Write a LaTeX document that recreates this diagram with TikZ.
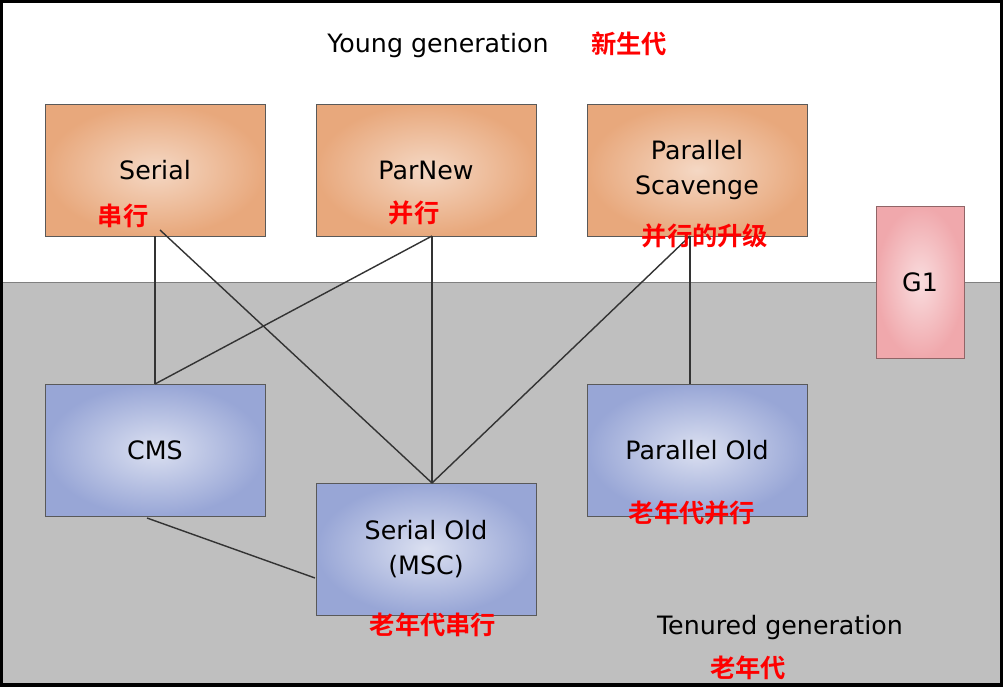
\documentclass[tikz,border=0pt]{standalone}
\usepackage{fontspec}
\setmainfont{DejaVu Sans}
\newfontfamily\cjk{Noto Sans CJK SC}[BoldFont={* Bold}]
\definecolor{young}{HTML}{E8A87C}
\definecolor{tenured}{HTML}{98A6D6}
\definecolor{gone}{HTML}{F0A8AC}
\tikzset{
  gcbox/.style={draw=gray!70!black, minimum width=4.4cm, minimum height=2.64cm, align=center, font=\Large},
  ybox/.style={gcbox, inner color=young!45, outer color=young},
  tbox/.style={gcbox, inner color=tenured!35, outer color=tenured},
  note/.style={font=\cjk\bfseries\Large, text=red},
  link/.style={draw=gray!40!black, thick}
}
\begin{document}
\begin{tikzpicture}[x=0.02cm,y=-0.02cm]
\useasboundingbox (0,0) rectangle (1003,686);
% the two generations
\fill [white] (0,0) rectangle (1003,282);
\fill [gray!50] (0,282) rectangle (1003,686);
\draw [gray] (0,282) -- (1003,282);
\draw [line width=2pt] (1,1) rectangle (1002,685);
\node [font=\Large] (young) at (438,46) {Young generation};
\node [note] (youngcn) at (629,44) {新生代};
\node [font=\Large] (tenured) at (780,628) {Tenured generation};
\node [note] (tenuredcn) at (748,668) {老年代};

% collectors
\node [ybox] (serial) at (155,170) {Serial};
\node [ybox] (parnew) at (426,170) {ParNew};
\node [ybox] (scav) at (697,170) {Parallel\\[2pt]Scavenge};
\node [gcbox, minimum width=1.76cm, minimum height=3.04cm, inner color=gone!40, outer color=gone, draw=gone!60!black] (g1) at (920,282) {G1};
\node [tbox] (cms) at (155,450) {CMS};
\node [tbox] (serialold) at (426,549) {Serial Old\\[2pt](MSC)};
\node [tbox] (parold) at (697,450) {Parallel Old};

% links
\coordinate (s1) at (155,236);
\coordinate (s2) at (160,230);
\coordinate (p1) at (432,236);
\coordinate (v1) at (690,236);
\coordinate (c1) at (155,384);
\coordinate (c2) at (147,518);
\coordinate (o1) at (432,483);
\coordinate (o2) at (315,578);
\coordinate (q1) at (690,384);
\draw [link] (s1) -- (c1);
\draw [link] (s2) -- (o1);
\draw [link] (p1) -- (c1);
\draw [link] (p1) -- (o1);
\draw [link] (v1) -- (o1);
\draw [link] (v1) -- (q1);
\draw [link] (c2) -- (o2);

% notes
\node [note] (serialcn) at (123,216) {串行};
\node [note] (parnewcn) at (414,213) {并行};
\node [note] (scavcn) at (705,236) {并行的升级};
\node [note] (paroldcn) at (692,513) {老年代并行};
\node [note] (serialoldcn) at (433,625) {老年代串行};
\end{tikzpicture}
\end{document}
